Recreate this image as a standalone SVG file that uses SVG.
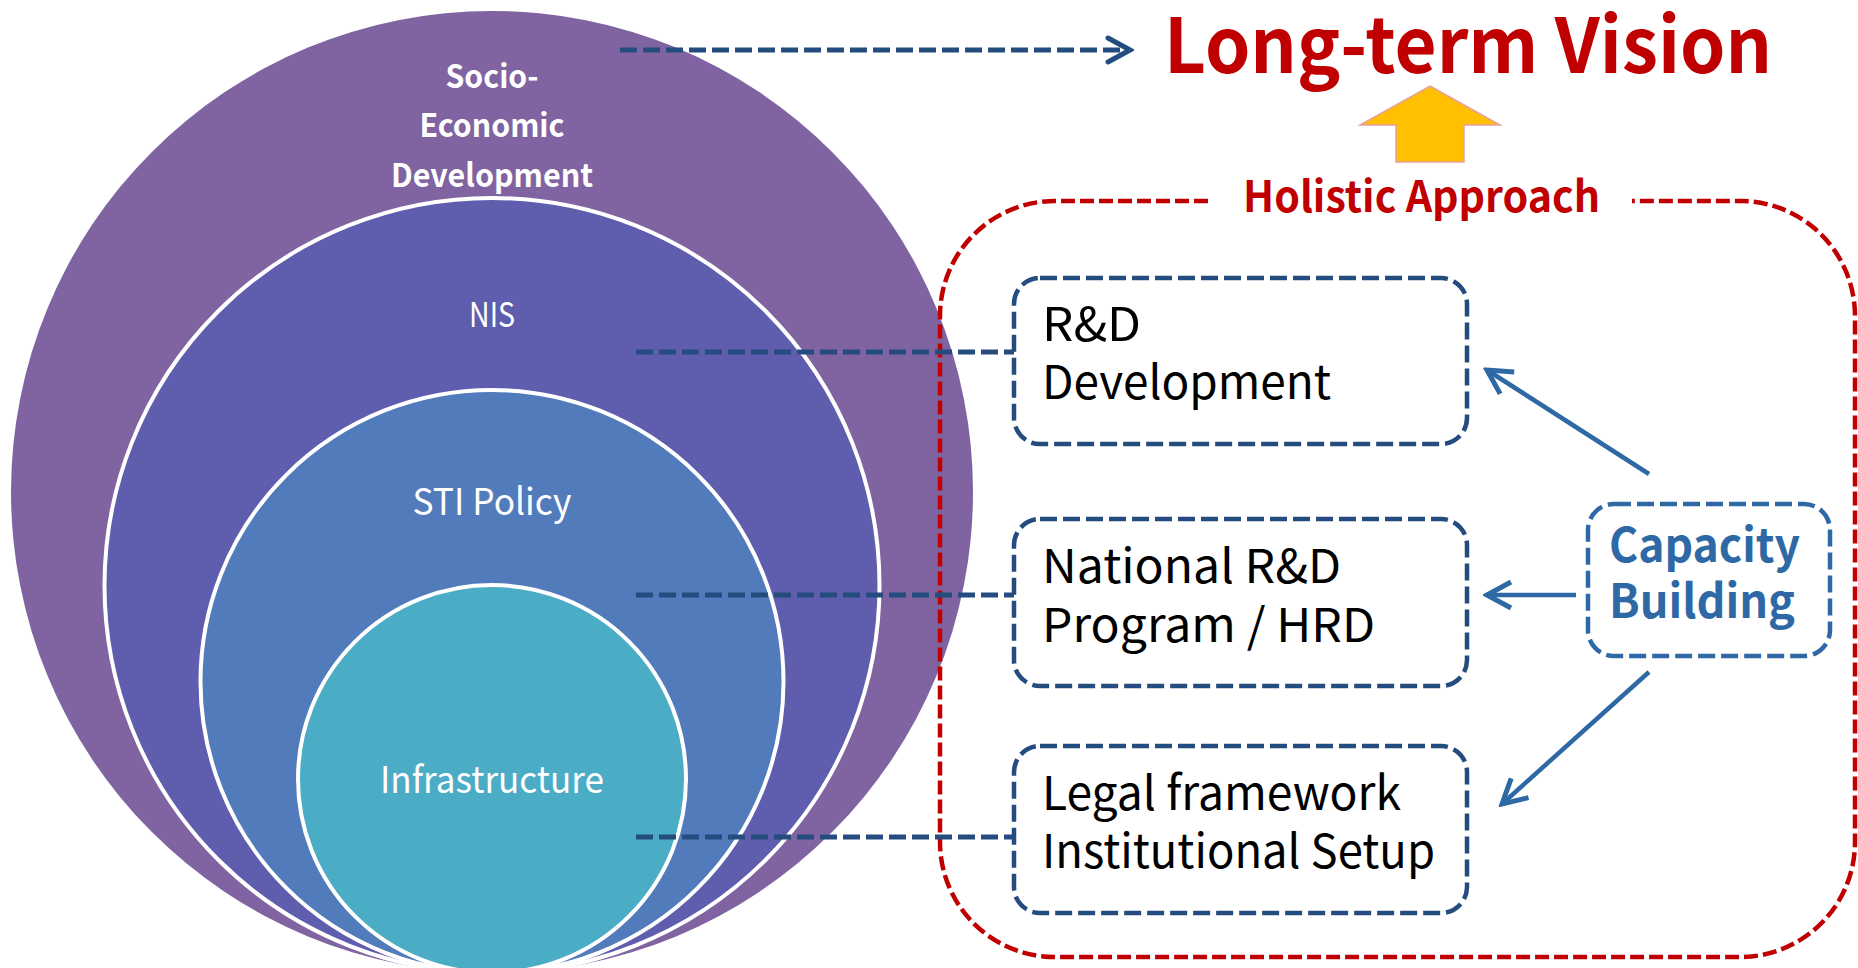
<svg xmlns="http://www.w3.org/2000/svg" width="1858" height="968" viewBox="0 0 1858 968">
<style>
.ring{stroke:#FFFFFF;stroke-width:4}
.lbl{font-family:"Noto Sans CJK KR","Noto Sans",sans-serif;fill:#FFFFFF;text-anchor:middle}
.box{fill:none;stroke:#254C7E;stroke-width:4.5;stroke-dasharray:17 6}
.btxt{font-family:"Noto Sans CJK KR","Noto Sans",sans-serif;font-size:47px;fill:#000000}
.conn{fill:none;stroke:#254C7E;stroke-width:5;stroke-dasharray:17 6}
.solid{fill:none;stroke:#2E69A6;stroke-width:4.5}
.red{font-family:"Noto Sans CJK KR","Noto Sans",sans-serif;font-weight:bold;fill:#C00000}
.cap{font-family:"Noto Sans CJK KR","Noto Sans",sans-serif;font-weight:bold;font-size:47px;fill:#2E69A6}
</style>
<defs>
<marker id="chev" markerUnits="userSpaceOnUse" viewBox="-30 -16 34 32" refX="0" refY="0" markerWidth="34" markerHeight="32" orient="auto">
<path d="M-22,-12 L0,0 L-22,12" fill="none" stroke="#254C7E" stroke-width="5" stroke-dasharray="none" stroke-linecap="round"/>
</marker>
<marker id="vb" markerUnits="userSpaceOnUse" viewBox="-30 -16 34 32" refX="0" refY="0" markerWidth="34" markerHeight="32" orient="auto">
<path d="M-24,-13 L0,0 L-24,13" fill="none" stroke="#2E69A6" stroke-width="5" stroke-linejoin="miter"/>
</marker>
</defs>
<rect width="1858" height="968" fill="#FFFFFF"/>

<g id="socio">
<circle cx="492" cy="492" r="481" fill="#8064A2"/>
<text class="lbl" font-weight="bold" font-size="32" x="492" y="88" textLength="93" lengthAdjust="spacingAndGlyphs">Socio-</text>
<text class="lbl" font-weight="bold" font-size="32" x="492" y="137" textLength="145" lengthAdjust="spacingAndGlyphs">Economic</text>
<text class="lbl" font-weight="bold" font-size="32" x="492" y="187" textLength="202" lengthAdjust="spacingAndGlyphs">Development</text>
</g>
<g id="nis">
<circle class="ring" cx="492" cy="585.5" r="387.5" fill="#5F5DAD"/>
<text class="lbl" font-size="34" x="492" y="327" textLength="46" lengthAdjust="spacingAndGlyphs">NIS</text>
</g>
<g id="sti">
<circle class="ring" cx="492" cy="681.5" r="291.5" fill="#527BBB"/>
<text class="lbl" font-size="37" x="492" y="515" textLength="159" lengthAdjust="spacingAndGlyphs">STI Policy</text>
</g>
<g id="infra">
<circle class="ring" cx="492" cy="779" r="194" fill="#4BACC6"/>
<text class="lbl" font-size="37" x="492" y="793" textLength="224" lengthAdjust="spacingAndGlyphs">Infrastructure</text>
</g>

<g id="holistic">
<path d="M1208,201 L1055,201 A115,115 0 0 0 940,316 L940,842 A115,115 0 0 0 1055,957 L1741,957 A115,115 0 0 0 1855,842 L1855,316 A115,115 0 0 0 1741,201 L1632,201" fill="none" stroke="#C00000" stroke-width="4.5" stroke-dasharray="14 5"/>
<text class="red" font-size="43" x="1243" y="212" textLength="357" lengthAdjust="spacingAndGlyphs">Holistic Approach</text>
</g>

<g id="vision">
<text class="red" font-size="76" x="1164" y="73" textLength="608" lengthAdjust="spacingAndGlyphs">Long-term Vision</text>
</g>
<g id="uparrow">
<path d="M1430,86 L1500,125 L1464,125 L1464,162 L1396,162 L1396,125 L1360,125 Z" fill="#FFC000" stroke="#E6A0A0" stroke-width="1.5"/>
</g>

<g id="connectors">
<line class="conn" x1="620" y1="50" x2="1130" y2="50" marker-end="url(#chev)"/>
<line class="conn" x1="636" y1="352" x2="1014" y2="352"/>
<line class="conn" x1="636" y1="595" x2="1014" y2="595"/>
<line class="conn" x1="636" y1="837" x2="1014" y2="837"/>
<line class="solid" x1="1649" y1="474" x2="1487" y2="370" marker-end="url(#vb)"/>
<line class="solid" x1="1576" y1="595" x2="1487" y2="595" marker-end="url(#vb)"/>
<line class="solid" x1="1649" y1="672" x2="1502" y2="804" marker-end="url(#vb)"/>
</g>

<g id="rd">
<rect class="box" x="1014" y="278" width="453" height="166" rx="26"/>
<text class="btxt" x="1042" y="341" textLength="99" lengthAdjust="spacingAndGlyphs">R&amp;D</text>
<text class="btxt" x="1042" y="399" textLength="289" lengthAdjust="spacingAndGlyphs">Development</text>
</g>
<g id="national">
<rect class="box" x="1014" y="519" width="453" height="167" rx="26"/>
<text class="btxt" x="1042" y="583" textLength="299" lengthAdjust="spacingAndGlyphs">National R&amp;D</text>
<text class="btxt" x="1042" y="642" textLength="333" lengthAdjust="spacingAndGlyphs">Program / HRD</text>
</g>
<g id="legal">
<rect class="box" x="1014" y="746" width="453" height="167" rx="26"/>
<text class="btxt" x="1042" y="810" textLength="359" lengthAdjust="spacingAndGlyphs">Legal framework</text>
<text class="btxt" x="1042" y="868" textLength="393" lengthAdjust="spacingAndGlyphs">Institutional Setup</text>
</g>
<g id="capacity">
<rect x="1588" y="504" width="242" height="152" rx="26" fill="none" stroke="#2E69A6" stroke-width="4.5" stroke-dasharray="17 6"/>
<text class="cap" x="1609" y="562" textLength="191" lengthAdjust="spacingAndGlyphs">Capacity</text>
<text class="cap" x="1609" y="618" textLength="186" lengthAdjust="spacingAndGlyphs">Building</text>
</g>
</svg>
